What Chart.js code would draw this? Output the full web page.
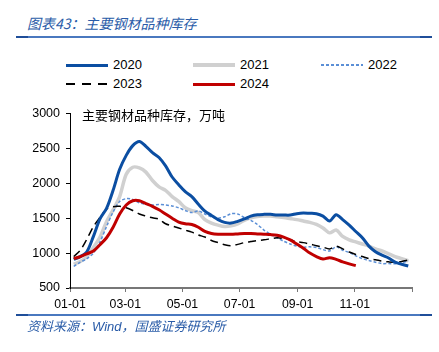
<!DOCTYPE html>
<html>
<head>
<meta charset="utf-8">
<script src="https://cdn.jsdelivr.net/npm/chart.js@4.4.0/dist/chart.umd.min.js"></script>
<style>
  body { margin: 0; background: #fff; width: 439px; height: 352px; position: relative; overflow: hidden; font-family: "Liberation Sans", Arial, sans-serif; }
  .title { position: absolute; left: 27px; top: 13px; font: italic 14px "Noto Sans CJK SC", sans-serif; color: #2a5ca8; white-space: nowrap; }
  .rule { position: absolute; left: 16px; width: 416px; height: 2px; background: #4a78bf; }
  .rule:before, .rule:after { content: ""; position: absolute; top: 0; width: 12px; height: 2px; background: #1f4e99; }
  .rule:before { left: 0; } .rule:after { right: 0; }
  .foot { position: absolute; left: 27px; top: 316px; font: italic 13px "Noto Sans CJK SC", sans-serif; color: #2a5ca8; white-space: nowrap; }
  .foot i { font-family: "Liberation Sans", Arial, sans-serif; }
  .lg { position: absolute; font: 13px "Liberation Sans", Arial, sans-serif; color: #000; }
  .lg span.s { position: absolute; left: 0; width: 42px; }
  .lg span.t { position: absolute; left: 47px; top: -8px; }
  .note { position: absolute; left: 82px; top: 105px; font: 13px "Noto Sans CJK SC", sans-serif; color: #000; white-space: nowrap; }
  #box { position: absolute; left: 0; top: 100px; width: 439px; height: 215px; }
</style>
</head>
<body>
<div class="title">图表43：主要钢材品种库存</div>
<div class="rule" style="top:36px"></div>

<div class="lg" style="left:66px;top:65px"><span class="s" style="top:-1.5px;height:3px;background:#0b4ea2"></span><span class="t">2020</span></div>
<div class="lg" style="left:193px;top:65px"><span class="s" style="top:-2px;height:4px;background:#d0d0d0"></span><span class="t">2021</span></div>
<div class="lg" style="left:321px;top:65px"><span class="s" style="top:-1px;height:1.5px;background:repeating-linear-gradient(to right,#5b8fd6 0 3px,transparent 3px 5px)"></span><span class="t">2022</span></div>
<div class="lg" style="left:66px;top:84px"><span class="s" style="top:-1px;height:2px;background:repeating-linear-gradient(to right,#000 0 9px,transparent 9px 16px)"></span><span class="t">2023</span></div>
<div class="lg" style="left:193px;top:84px"><span class="s" style="top:-1.5px;height:3px;background:#c00000"></span><span class="t">2024</span></div>

<div id="box"><canvas id="c"></canvas></div>
<div class="note">主要钢材品种库存，万吨</div>

<div class="rule" style="top:314px"></div>
<div class="foot">资料来源：<i>Wind</i>，国盛证券研究所</div>

<script>
// day of year for each weekly point
var days = [4,11,18,25,32,39,46,53,60,67,74,81,88,95,102,109,116,123,130,137,144,151,158,165,172,179,186,193,200,207,214,221,228,235,242,249,256,263,270,277,284,291,298,305,312,319,326,333,340,347,354,361];

var s2020 = [910,950,1020,1240,1490,1640,1900,2200,2400,2540,2600,2530,2440,2370,2250,2090,1980,1880,1810,1700,1600,1540,1480,1440,1430,1455,1490,1530,1550,1555,1555,1545,1545,1545,1565,1575,1570,1565,1530,1460,1550,1480,1400,1310,1220,1100,1020,970,930,870,840,815];
var s2021 = [840,880,950,1080,1230,1450,1620,1810,2130,2230,2220,2160,2040,1950,1900,1810,1740,1650,1610,1580,1480,1430,1400,1380,1390,1420,1470,1505,1525,1530,1530,1520,1510,1495,1480,1460,1440,1410,1360,1290,1330,1240,1190,1160,1130,1100,1060,1030,990,950,920,890];
var s2022 = [810,870,920,1000,1160,1380,1590,1740,1780,1770,1720,1700,1690,1695,1690,1675,1650,1610,1580,1605,1560,1520,1500,1520,1565,1560,1510,1470,1410,1330,1270,1220,1170,1130,1100,1085,1090,1080,1050,1030,1090,1040,1010,960,920,895,870,850,850,848,860,890];
var s2023 = [950,1040,1200,1380,1510,1630,1665,1670,1650,1610,1560,1530,1505,1485,1420,1390,1360,1330,1300,1260,1230,1180,1150,1120,1105,1125,1150,1165,1180,1190,1205,1220,1210,1190,1165,1150,1130,1105,1085,1060,1100,1060,1015,980,950,920,905,885,875,870,880,900];
var s2024 = [920,950,990,1030,1120,1220,1370,1560,1690,1750,1750,1710,1670,1620,1560,1500,1445,1420,1410,1370,1310,1280,1270,1270,1270,1275,1280,1280,1275,1270,1265,1255,1230,1190,1130,1070,1000,950,915,935,910,875,845,820];

var tickDays = [0,59,120,181,243,304,365];
var tickLabels = ['01-01','03-01','05-01','07-01','09-01','11-01',''];

function pts(vals) {
  return vals.map(function(v, i) { return { x: days[i], y: v }; });
}

var ctx = document.getElementById('c');
new Chart(ctx, {
  type: 'line',
  data: {
    datasets: [
      { label: '2024', data: pts(s2024), borderColor: '#c00000', borderWidth: 3, order: 0 },
      { label: '2020', data: pts(s2020), borderColor: '#0b4ea2', borderWidth: 3, order: 1 },
      { label: '2023', data: pts(s2023), borderColor: '#000000', borderWidth: 1.5, borderDash: [8, 5], order: 2 },
      { label: '2022', data: pts(s2022), borderColor: '#5b8fd6', borderWidth: 1.5, borderDash: [3, 2], order: 3 },
      { label: '2021', data: pts(s2021), borderColor: '#d0d0d0', borderWidth: 3.5, order: 4 }
    ]
  },
  options: {
    responsive: true,
    maintainAspectRatio: false,
    animation: false,
    elements: { point: { radius: 0 }, line: { tension: 0.3, fill: false } },
    layout: { padding: { top: 10.7, right: 27, left: 0, bottom: 0 } },
    plugins: { legend: { display: false }, tooltip: { enabled: false } },
    scales: {
      x: {
        type: 'linear',
        min: 0,
        max: 365,
        afterBuildTicks: function(s) { s.ticks = tickDays.map(function(v) { return { value: v }; }); },
        afterFit: function(s) { s.height = 27; },
        ticks: {
          autoSkip: false, maxRotation: 0, padding: 5, color: '#000',
          font: { family: 'Liberation Sans', size: 12.3 },
          callback: function(v) { var i = tickDays.indexOf(v); return i >= 0 ? tickLabels[i] : ''; }
        },
        grid: { drawOnChartArea: false, drawTicks: true, tickLength: 4, color: '#777' },
        border: { display: true, color: '#777', width: 2 }
      },
      y: {
        min: 500,
        max: 3000,
        afterFit: function(s) { s.width = 70; },
        ticks: {
          stepSize: 500, padding: 6, color: '#000', font: { family: 'Liberation Sans', size: 12.5 },
          callback: function(v) { return String(v); }
        },
        grid: { drawOnChartArea: false, drawTicks: true, tickLength: 4, color: '#000' },
        border: { display: true, color: '#000', width: 1 }
      }
    }
  }
});
</script>
</body>
</html>
